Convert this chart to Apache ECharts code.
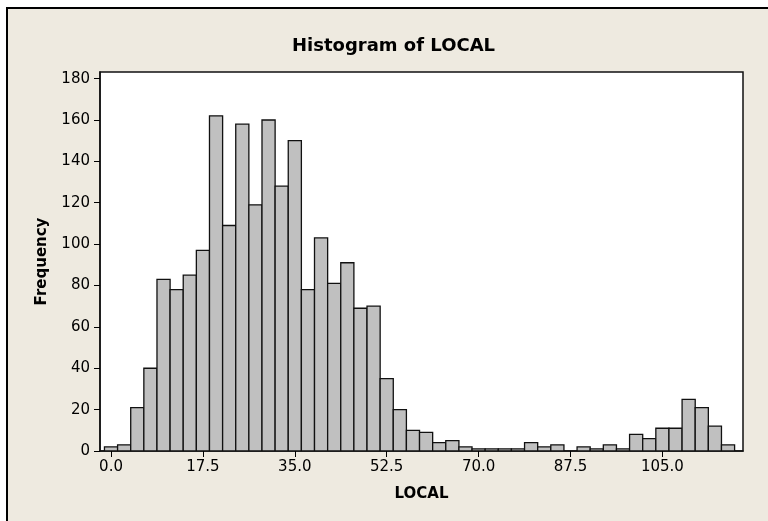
<!DOCTYPE html>
<html>
<head>
<meta charset="utf-8">
<title>Histogram of LOCAL</title>
<script src="https://cdn.jsdelivr.net/npm/echarts@6/dist/echarts.min.js"></script>
<style>
  html, body { margin: 0; padding: 0; background: #ffffff; }
  #chart { width: 768px; height: 521px; }
</style>
</head>
<body>
<div id="chart"></div>
<script>
// Bin midpoints of LOCAL (bin width 2.5)
const binMids = [
  0, 2.5, 5, 7.5, 10, 12.5, 15, 17.5, 20, 22.5, 25, 27.5,
  30, 32.5, 35, 37.5, 40, 42.5, 45, 47.5, 50, 52.5, 55, 57.5,
  60, 62.5, 65, 67.5, 70, 72.5, 75, 77.5, 80, 82.5, 85, 87.5,
  90, 92.5, 95, 97.5, 100, 102.5, 105, 107.5, 110, 112.5, 115, 117.5
];
// Frequency of each bin
const frequency = [
  2, 3, 21, 40, 83, 78, 85, 97, 162, 109, 158, 119,
  160, 128, 150, 78, 103, 81, 91, 69, 70, 35, 20, 10,
  9, 4, 5, 2, 1, 1, 1, 1, 4, 2, 3, 0,
  2, 1, 3, 1, 8, 6, 11, 11, 25, 21, 12, 3
];
const xTicks = [0, 17.5, 35, 52.5, 70, 87.5, 105];
const yTicks = [0, 20, 40, 60, 80, 100, 120, 140, 160, 180];
const BIN_WIDTH = 2.5;

const FONT = '"DejaVu Sans", Verdana, sans-serif';
const INK = '#000000';
const PANEL = '#EEEAE0';

const chart = echarts.init(document.getElementById('chart'), null, { renderer: 'canvas' });

chart.setOption({
  animation: false,
  backgroundColor: '#ffffff',
  graphic: [{
    type: 'rect',
    z: -100,
    silent: true,
    shape: { x: 7, y: 8, width: 800, height: 600 },
    style: { fill: PANEL, stroke: INK, lineWidth: 2 }
  }],
  title: {
    text: 'Histogram of LOCAL',
    left: 292,
    top: 37,
    padding: 0,
    textStyle: { fontFamily: FONT, fontSize: 18, fontWeight: 'bold', color: INK }
  },
  grid: {
    left: 100, top: 72, right: 25, bottom: 70,
    show: true,
    backgroundColor: '#ffffff',
    borderColor: '#111111',
    borderWidth: 1.5
  },
  xAxis: {
    type: 'value',
    min: -2.1,
    max: 120.35,
    name: 'LOCAL',
    nameLocation: 'middle',
    nameGap: 36,
    nameTextStyle: { fontFamily: FONT, fontSize: 15, fontWeight: 'bold', color: INK },
    axisLine: { show: true, onZero: false, lineStyle: { color: '#111111', width: 1.5 } },
    axisTick: { show: true, length: 6, customValues: xTicks, lineStyle: { color: INK } },
    axisLabel: {
      customValues: xTicks,
      margin: 9,
      fontFamily: FONT, fontSize: 15, color: INK,
      formatter: v => Number(v).toFixed(1)
    },
    splitLine: { show: false }
  },
  yAxis: {
    type: 'value',
    min: 0,
    max: 183.2,
    name: 'Frequency',
    nameLocation: 'middle',
    nameGap: 50,
    nameTextStyle: { fontFamily: FONT, fontSize: 15, fontWeight: 'bold', color: INK },
    axisLine: { show: true, onZero: false, lineStyle: { color: '#111111', width: 1.5 } },
    axisTick: { show: true, length: 6, customValues: yTicks, lineStyle: { color: INK } },
    axisLabel: {
      customValues: yTicks,
      margin: 10,
      fontFamily: FONT, fontSize: 15, color: INK
    },
    splitLine: { show: false }
  },
  series: [{
    type: 'custom',
    data: binMids.map((m, i) => [m, frequency[i]]),
    encode: { x: 0, y: 1 },
    clip: true,
    renderItem: function (params, api) {
      const mid = api.value(0);
      const n = api.value(1);
      if (!n) return null;
      const topLeft = api.coord([mid - BIN_WIDTH / 2, n]);
      const baseRight = api.coord([mid + BIN_WIDTH / 2, 0]);
      return {
        type: 'rect',
        shape: {
          x: topLeft[0],
          y: topLeft[1],
          width: baseRight[0] - topLeft[0],
          height: baseRight[1] - topLeft[1]
        },
        style: { fill: '#C0C0C0', stroke: '#111111', lineWidth: 1.3 }
      };
    }
  }]
});
</script>
</body>
</html>
